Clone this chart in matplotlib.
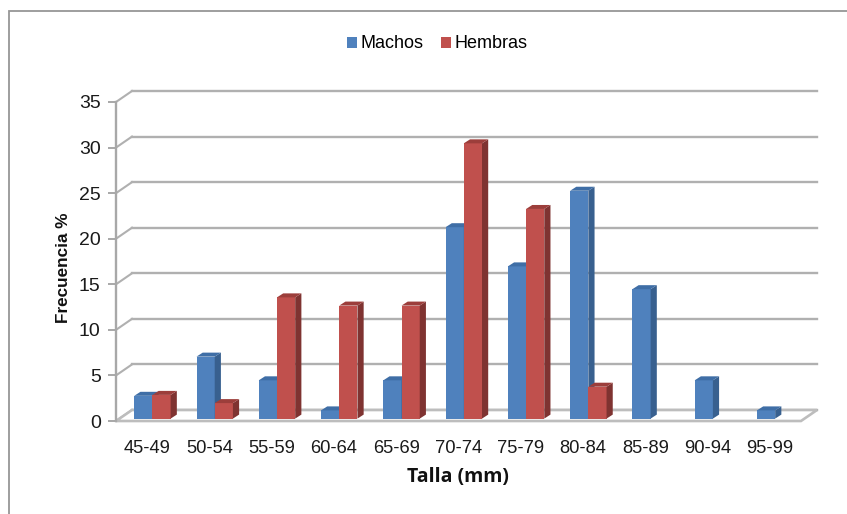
import matplotlib
matplotlib.use("Agg")
import matplotlib.pyplot as plt
from matplotlib.patches import Polygon, Rectangle

categories = ["45-49", "50-54", "55-59", "60-64", "65-69", "70-74", "75-79", "80-84", "85-89", "90-94", "95-99"]
machos = [2.5, 6.8, 4.2, 0.9, 4.2, 21.0, 16.7, 25.0, 14.2, 4.2, 0.9]
hembras = [2.6, 1.7, 13.3, 12.4, 12.4, 30.2, 23.0, 3.5, 0, 0, 0]
yticks = [0, 5, 10, 15, 20, 25, 30, 35]

W, H = 847, 514
plt.rcParams['font.family'] = ['Liberation Sans', 'DejaVu Sans']
fig = plt.figure(figsize=(W / 100, H / 100), dpi=100)

x0, x1, ybot, ytop = 116, 801, 421, 102
ax = fig.add_axes([x0 / W, 1 - ybot / H, (x1 - x0) / W, (ybot - ytop) / H])
ax.set_xlim(0, 11)
ax.set_ylim(0, 35)
ax.patch.set_alpha(0)

pxx = 11 / (x1 - x0)
pxy = 35 / (ybot - ytop)
wall_dx, wall_dy = 16 * pxx, 11 * pxy
grid = "#b0b0b0"

for v in yticks:
    ax.plot([wall_dx, 11 + wall_dx], [v + wall_dy] * 2, color=grid, lw=1.7, clip_on=False, zorder=1)
    ax.plot([0, wall_dx], [v, v + wall_dy], color=grid, lw=1.5, clip_on=False, zorder=1)
ax.add_patch(Polygon([(0, 0), (wall_dx, wall_dy), (11 + wall_dx, wall_dy), (11, 0)],
                     closed=True, fc="white", ec="#bdbdbd", lw=1.9, clip_on=False, zorder=1.5))

bw = 18.2 * pxx
off = 5.3 * pxx
bar_base = 2.4 * pxy
ddx, ddy = 6.2 * pxx, 4.0 * pxy
palette = [("#4f81bd", "#38608f", "#3f6ea6"), ("#c0504d", "#7f3331", "#9c3e3b")]

pos = list(range(len(categories)))
for s, (vals, (front, side, top)) in enumerate(zip([machos, hembras], palette)):
    xs = [p + 0.5 + off + (s - 0.5) * bw for p in pos]
    ax.bar(xs, vals, width=bw, bottom=bar_base, color=front, zorder=3 + s, clip_on=False,
           label=["Machos", "Hembras"][s])
    for xc, v in zip(xs, vals):
        if v <= 0:
            continue
        l, r = xc - bw / 2, xc + bw / 2
        t = v + bar_base
        ax.add_patch(Polygon([(r, bar_base), (r + ddx, bar_base + ddy), (r + ddx, t + ddy), (r, t)],
                             closed=True, fc=side, ec="none", zorder=3 + s, clip_on=False))
        ax.add_patch(Polygon([(l, t), (l + ddx, t + ddy), (r + ddx, t + ddy), (r, t)],
                             closed=True, fc=top, ec="none", zorder=3 + s, clip_on=False))

for s in ["top", "right", "bottom"]:
    ax.spines[s].set_visible(False)
ax.spines["left"].set_color("#a8a8a8")
ax.spines["left"].set_linewidth(1.7)

ax.set_xticks([p + 0.5 for p in pos], categories)
ax.set_yticks(yticks)
ax.tick_params(axis="x", length=0, pad=14, labelsize=13.2, labelcolor="#1a1a1a")
ax.tick_params(axis="y", length=6, width=1.4, color="#a8a8a8", pad=5, labelsize=14, labelcolor="#1a1a1a")

fig.text(63 / W, 1 - 268 / H, "Frecuencia %", rotation=90, ha="center", va="center",
         fontsize=12.3, fontweight="bold", color="#111111")
fig.text(458 / W, 1 - 477 / H, "Talla (mm)", ha="center", va="center",
         fontsize=14, fontweight="bold", color="#111111", family=["Open Sans", "DejaVu Sans"])

handles, labels = ax.get_legend_handles_labels()
fig.legend(handles, labels, loc="center", bbox_to_anchor=(437.5 / W, 1 - 44 / H), ncol=2, frameon=False,
           fontsize=13, handlelength=0.55, handleheight=0.55, handletextpad=0.22, columnspacing=0.95)

fig.add_artist(Rectangle((8.5 / W, -0.02), 1.0, 1 - 10.5 / H + 0.02, transform=fig.transFigure,
                         fill=False, ec="#969696", lw=1.3))
fig.savefig("out.png", dpi=100)
